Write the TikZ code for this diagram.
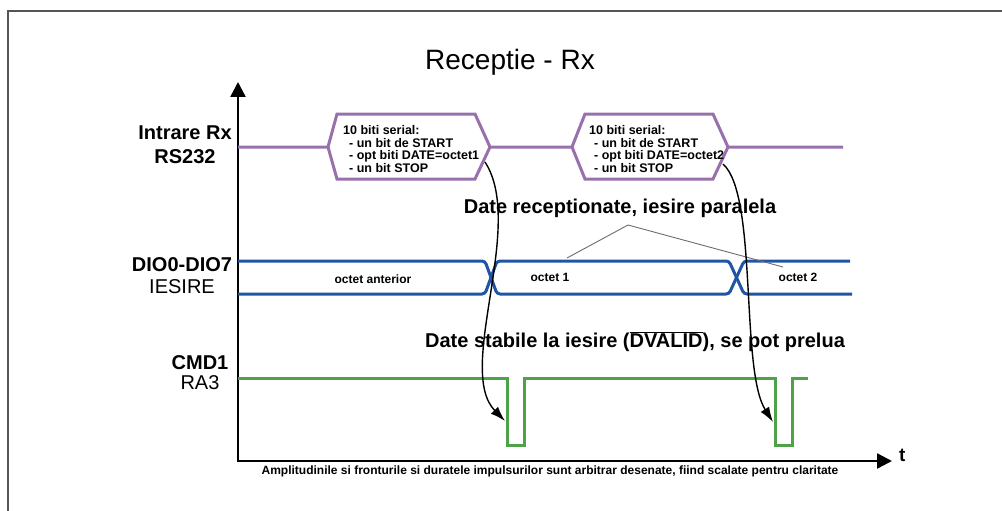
\documentclass[tikz,border=0pt]{standalone}
\usepackage{fontspec}
\setmainfont{Liberation Sans}
\usetikzlibrary{arrows.meta,positioning,calc}
\definecolor{rxpurple}{RGB}{152,112,172}
\definecolor{dioblue}{RGB}{32,84,164}
\definecolor{cmdgreen}{RGB}{78,162,72}
\definecolor{framegray}{RGB}{85,85,85}
\tikzset{
rxwave/.style={draw=rxpurple,line width=3pt,line join=miter},
diowave/.style={draw=dioblue,line width=3pt,rounded corners=3pt},
cmdwave/.style={draw=cmdgreen,line width=3pt,line join=miter},
axisarr/.style={{Triangle[length=15pt,width=15pt]}-{Triangle[length=15pt,width=15pt]},line width=2.4pt},
flowarr/.style={-{Latex[length=15pt,width=10pt]},line width=1.4pt},
ptrline/.style={draw=gray!85!black,line width=0.9pt},
siglabel/.style={align=center,inner sep=0pt,font=\fontsize{20}{24}\selectfont},
hextext/.style={align=left,anchor=west,inner sep=0pt,font=\bfseries\fontsize{12.5}{12.8}\selectfont},
octlabel/.style={inner sep=2pt,font=\bfseries\fontsize{12}{14}\selectfont},
notetext/.style={inner sep=0pt,font=\bfseries\fontsize{20}{24}\selectfont}
}
\begin{document}
\begin{tikzpicture}[
x=1pt,
y=-1pt,
every node/.style={text=black}
]
\useasboundingbox (0,0) rectangle (1002,511);
\draw[framegray,line width=1.5pt] (8,530) -- (8,11) -- (1020,11);
\node[inner sep=0pt,font=\fontsize{28}{32}\selectfont] (title) at (510,62) {Receptie - Rx};
\coordinate (origin) at (238,461);
\coordinate (ytop) at (238,82);
\coordinate (xend) at (892,461);
\draw[axisarr] (ytop) -- (origin) -- (xend);
\node[anchor=west,inner sep=0pt,font=\bfseries\fontsize{19}{20}\selectfont] (taxis) at (899,455) {t};
\node[siglabel] (lblrx) at (185,145) {\textbf{Intrare Rx}\\\textbf{RS232}};
\node[siglabel,font=\fontsize{20}{22}\selectfont] (lbldio) at (182,276) {\textbf{DIO0-DIO7}\\IESIRE};
\node[siglabel,font=\fontsize{20}{20}\selectfont] (lblcmd) at (200,373) {\textbf{CMD1}\\RA3};
\draw[rxwave] (238,147) -- (328,147) -- (337,114) -- (475,114) -- (490,147) -- (572,147) -- (585,114) -- (713,114) -- (728,147) -- (843,147);
\draw[rxwave] (328,147) -- (337,179) -- (475,179) -- (490,147);
\draw[rxwave] (572,147) -- (585,179) -- (713,179) -- (728,147);
\node[hextext] (serA) at (343,149) {10 biti serial:\\\hspace*{6pt}- un bit de START\\\hspace*{6pt}- opt biti DATE=octet1\\\hspace*{6pt}- un bit STOP};
\node[hextext] (serB) at (589,149) {10 biti serial:\\\hspace*{5pt}- un bit de START\\\hspace*{5pt}- opt biti DATE=octet2\\\hspace*{5pt}- un bit STOP};
\coordinate (rxoutA) at (485,162);
\coordinate (rxoutB) at (723,164);
\draw[diowave] (238,261) -- (485,261) -- (497,294) -- (729,294) -- (744,261) -- (850,261);
\draw[diowave] (238,294) -- (485,294) -- (497,261) -- (729,261) -- (744,294) -- (852,294);
\node[octlabel] (octprev) at (373,279) {octet anterior};
\node[octlabel] (octA) at (550,277) {octet 1};
\node[octlabel] (octB) at (798,277) {octet 2};
\node[notetext] (recv) at (620,208) {Date receptionate, iesire paralela};
\coordinate (fork) at (628,225);
\coordinate (ptrA) at (567,258);
\coordinate (ptrB) at (783,267);
\draw[ptrline] (fork) -- (ptrA);
\draw[ptrline] (fork) -- (ptrB);
\node[notetext] (stable) at (635,342) {Date stabile la iesire (\(\overline{\mbox{DVALID}}\)), se pot prelua};
\draw[cmdwave] (238,378) -- (507,378) -- (507,445) -- (524,445) -- (524,378) -- (775,378) -- (775,445) -- (792,445) -- (792,378) -- (808,378);
\coordinate (pulseA) at (505,421);
\coordinate (pulseB) at (773,422);
\draw[flowarr] (rxoutA) .. controls (526,225) and (455,370) .. (pulseA);
\draw[flowarr] (rxoutB) .. controls (758,195) and (740,370) .. (pulseB);
\node[inner sep=0pt,font=\bfseries\fontsize{12}{14}\selectfont] (note) at (550,471) {Amplitudinile si fronturile si duratele impulsurilor sunt arbitrar desenate, fiind scalate pentru claritate};
\end{tikzpicture}
\end{document}
